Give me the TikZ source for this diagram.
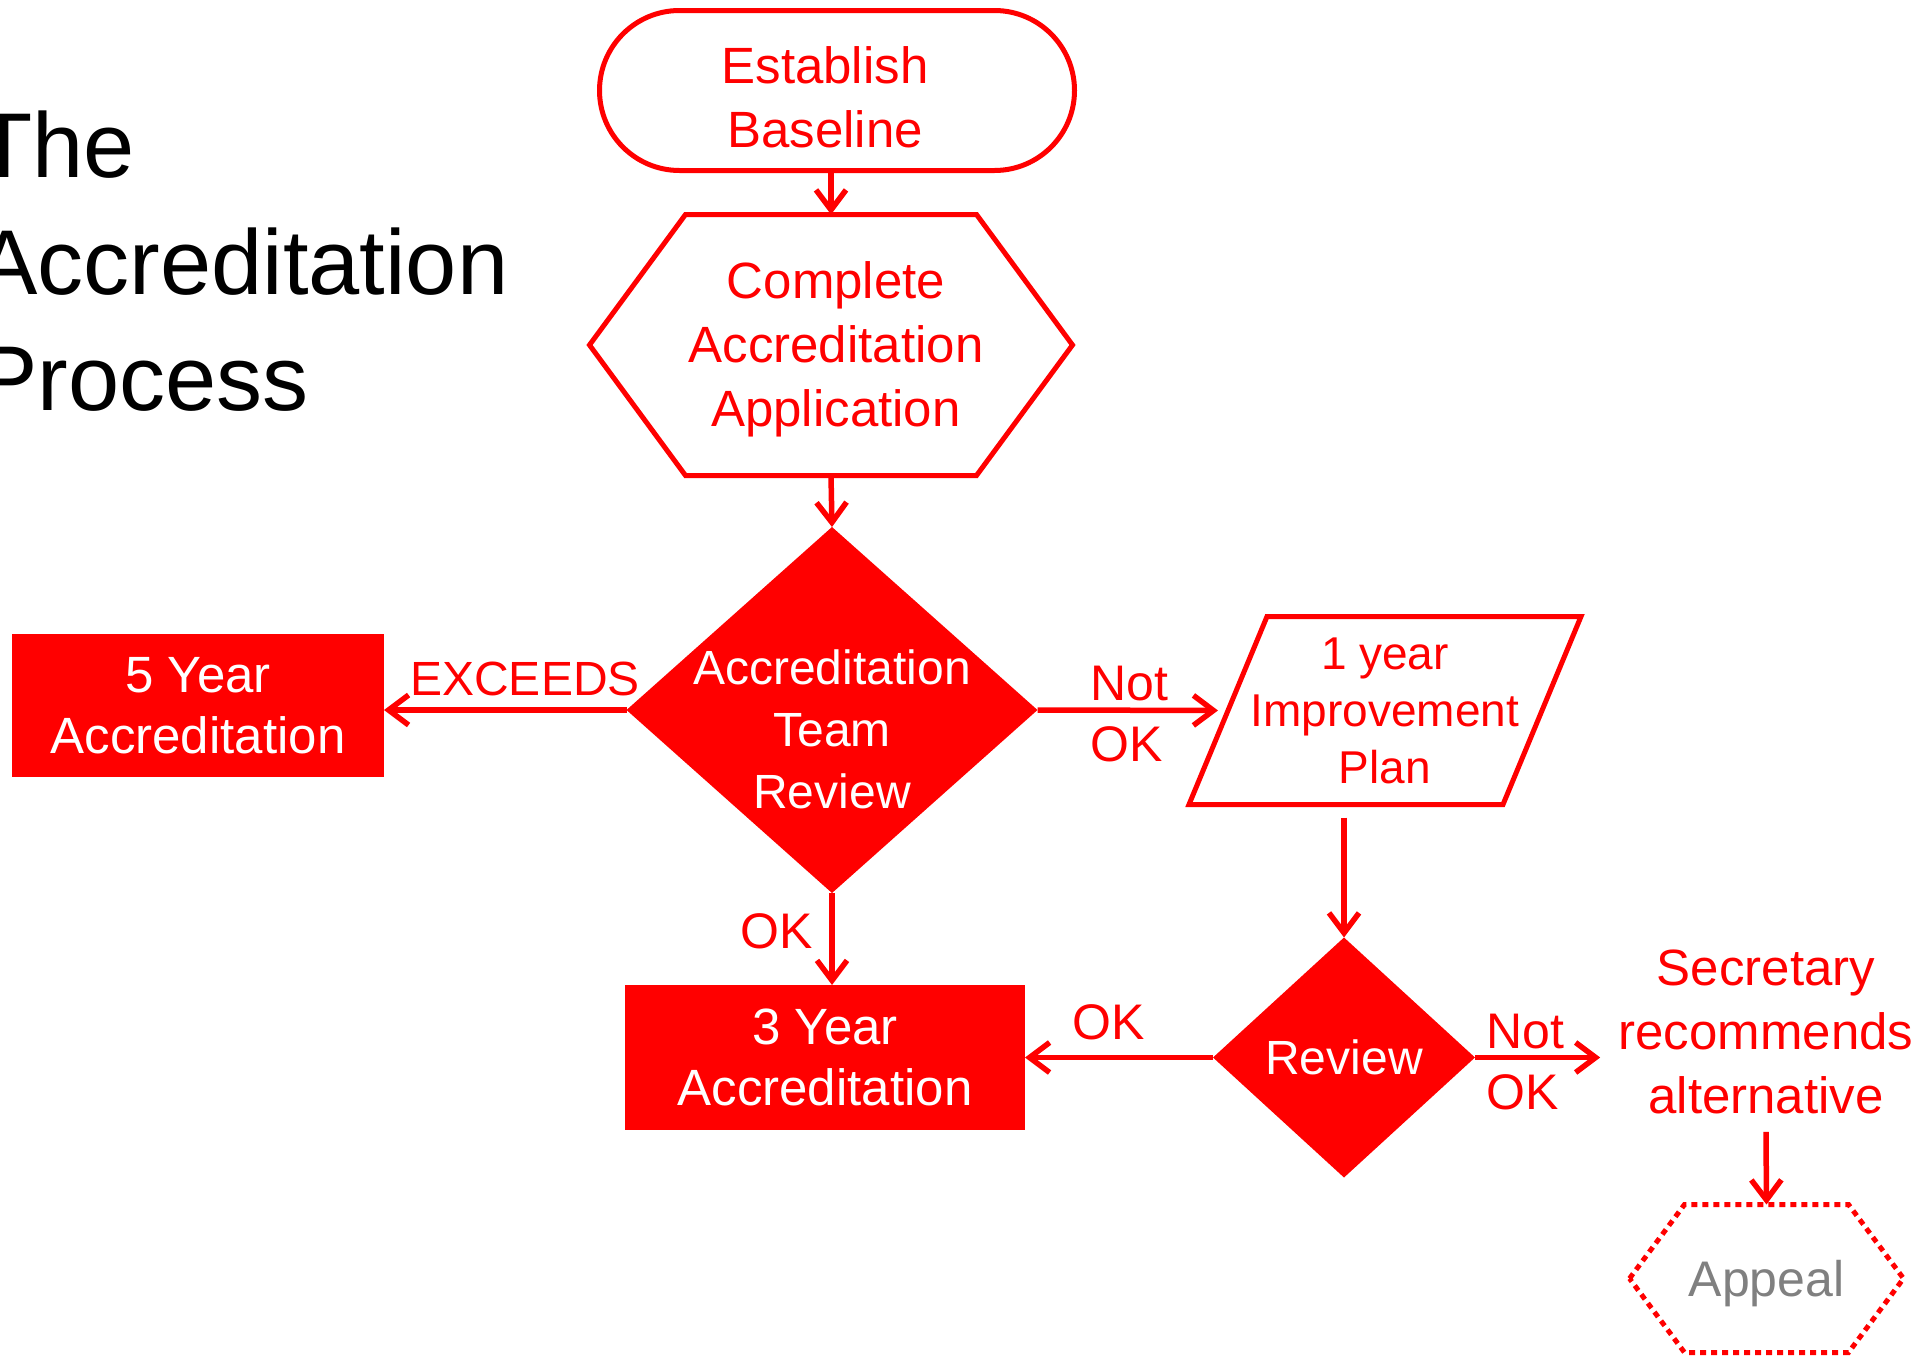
\documentclass[tikz,border=0pt]{standalone}
\usepackage{fontspec}
\setmainfont{Liberation Sans}
\usetikzlibrary{arrows.meta,backgrounds,calc}
\definecolor{myred}{RGB}{255,0,0}
\definecolor{mygray}{RGB}{128,128,128}
\begin{document}
\begin{tikzpicture}[x=0.5pt,y=-0.5pt,
  shapebox/.style={inner sep=0pt, outer sep=0pt, align=center},
  outlinetext/.style={text=myred, font=\fontsize{25.5pt}{32pt}\selectfont},
  boxtext/.style={text=white, font=\fontsize{25.5pt}{30.5pt}\selectfont},
  shapeline/.style={draw=myred, line width=2.5pt, line join=miter},
  arr/.style={draw=myred, line width=2.75pt,
    -{Straight Barb[length=10pt,width=15pt,line width=2.75pt]}},
  lab/.style={text=myred, font=\fontsize{25pt}{30.5pt}\selectfont, inner sep=0pt},
  titletext/.style={text=black, font=\fontsize{46pt}{58pt}\selectfont, inner sep=0pt, anchor=base west}]
\useasboundingbox (0,0) rectangle (1929,1360);
\clip (0,0) rectangle (1929,1360);

% title
\node[titletext] (t1) at (-24,177) {The};
\node[titletext] (t2) at (-24,294) {Accreditation};
\node[titletext] (t3) at (-24,410) {Process};

% establish baseline (stadium)
\node[shapebox, draw=myred, line width=2.5pt, outer sep=1.25pt,
  rounded corners=40pt, minimum width=237.5pt, minimum height=80pt,
  label={[name=baselab, inner sep=0pt, align=center, outlinetext,
    xshift=-6pt, yshift=-3.5pt]center:Establish\\Baseline}]
  (base) at (837,90.5) {};

% hexagon
\node[shapebox, minimum width=241.5pt, minimum height=130.5pt,
  label={[name=hexlab, inner sep=0pt, align=center, outlinetext,
    xshift=2.5pt, yshift=-2pt]center:Complete\\Accreditation\\Application}]
  (hex) at (831,345) {};

% accreditation team review diamond
\node[shapebox, minimum width=205.5pt, minimum height=183pt,
  label={[name=atrlab, inner sep=0pt, align=center, text=white,
    font=\fontsize{24pt}{31pt}\selectfont, yshift=-9.5pt]center:Accreditation\\Team\\Review}]
  (atr) at (832,710) {};

% 5 year box
\node[shapebox, boxtext, fill=myred, minimum width=186pt, minimum height=71.5pt]
  (y5) at (198,705.5) {5 Year\\Accreditation};

% 3 year box
\node[shapebox, boxtext, fill=myred, minimum width=200pt, minimum height=72.5pt]
  (y3) at (825,1057.5) {3 Year\\Accreditation};

% parallelogram
\node[shapebox, text=myred, font=\fontsize{23pt}{28.5pt}\selectfont,
  minimum width=196pt, minimum height=94pt]
  (par) at (1385,710.5) {1 year\\Improvement\\Plan};
\coordinate (parL) at ($(par.west)+(19.5pt,0pt)$);

% review diamond
\node[shapebox, text=white, font=\fontsize{24pt}{30pt}\selectfont,
  minimum width=131pt, minimum height=120pt] (rev) at (1344,1057.5) {Review};

% secretary text
\node[align=center, inner sep=9pt, outlinetext] (sec) at (1766,1031.5)
  {Secretary\\recommends\\alternative};

% appeal hexagon
\node[shapebox, minimum width=137pt, minimum height=74pt,
  label={[name=applab, inner sep=0pt, text=mygray,
    font=\fontsize{25pt}{30pt}\selectfont, yshift=-2.5pt]center:Appeal}]
  (app) at (1766.5,1278.5) {};

% shapes on background
\begin{scope}[on background layer]
  \draw[shapeline, fill=white] (hex.west) -- ($(hex.north west)+(48pt,0pt)$)
    -- ($(hex.north east)+(-48pt,0pt)$) -- (hex.east)
    -- ($(hex.south east)+(-48pt,0pt)$) -- ($(hex.south west)+(48pt,0pt)$) -- cycle;
  \fill[myred] (atr.north) -- (atr.east) -- (atr.south) -- (atr.west) -- cycle;
  \draw[shapeline, fill=white] ($(par.north west)+(39pt,0pt)$) -- (par.north east)
    -- ($(par.south east)+(-39pt,0pt)$) -- (par.south west) -- cycle;
  \fill[myred] (rev.north) -- (rev.east) -- (rev.south) -- (rev.west) -- cycle;
  \draw[draw=myred, line width=2.5pt, dash pattern=on 3pt off 2.5pt, fill=white]
    (app.west) -- ($(app.north west)+(27.5pt,0pt)$)
    -- ($(app.north east)+(-27.5pt,0pt)$) -- (app.east)
    -- ($(app.south east)+(-27.5pt,0pt)$) -- ($(app.south west)+(27.5pt,0pt)$) -- cycle;
\end{scope}

% labels
\node[lab, font=\fontsize{24pt}{30pt}\selectfont, anchor=base] (exc) at (525,695) {EXCEEDS};
\node[lab, anchor=west, align=left] (no1) at (1090,714) {Not\\OK};
\node[lab, anchor=base] (ok1) at (777,948) {OK};
\node[lab, anchor=base] (ok2) at (1108.5,1039) {OK};
\node[lab, anchor=west, align=left] (no2) at (1486,1062.5) {Not\\OK};

% connectors
\draw[arr] (base.south -| hex.north) -- (hex.north);
\draw[arr] (hex.south) -- (atr.north);
\draw[arr] (atr.west) -- (atr.west -| y5.east);
\draw[arr, shorten >=5pt] (atr.east) -- (parL);
\draw[arr] (atr.south) -- (atr.south |- y3.north);
\draw[arr, shorten <=6.5pt] (par.south -| rev.north) -- (rev.north);
\draw[arr] (rev.west) -- (rev.west -| y3.east);
\draw[arr] (rev.east) -- (rev.east -| sec.west);
\draw[arr] (sec.south) -- (app.north);
\end{tikzpicture}
\end{document}
